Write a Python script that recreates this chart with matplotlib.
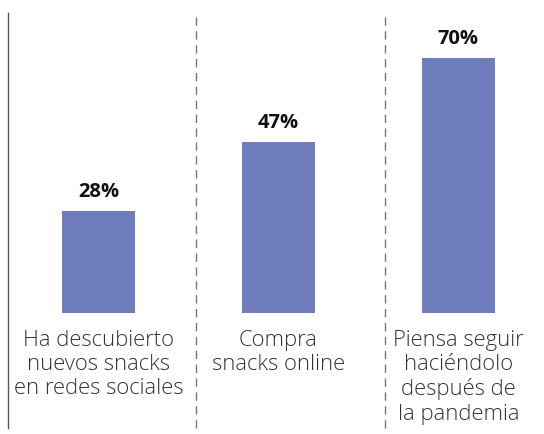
import matplotlib.pyplot as plt
import numpy as np

categories = ["Ha descubierto\nnuevos snacks\nen redes sociales",
              "Compra\nsnacks online",
              "Piensa seguir\nhaciéndolo\ndespués de\nla pandemia"]
values = [28, 47, 70]
value_labels = ["28%", "47%", "70%"]

bar_color = "#6f7dbd"

fig = plt.figure(figsize=(5.44, 4.34), dpi=100)
ax = fig.add_axes([0, 0, 1, 1])
ax.set_xlim(-0.547, 2.475)
ax.set_ylim(-33.2, 86.0)
ax.axis("off")

x = np.arange(len(values))
bars = ax.bar(x, values, width=0.405, color=bar_color)

for b, lab in zip(bars, value_labels):
    ax.annotate(lab, (b.get_x() + b.get_width() / 2, b.get_height()),
                xytext=(0, 6.5), textcoords="offset points",
                ha="center", va="bottom", fontsize=14.5, fontweight="bold",
                family="Open Sans", color="#111111")

for xi, cat in zip(x, categories):
    ax.annotate(cat, (xi, 0), xytext=(0, -12), textcoords="offset points",
                ha="center", va="top", fontsize=15.8, fontweight="light",
                family="Open Sans", color="#333333", linespacing=1.2)

# separadores
ax.axvline(-0.503, ymin=0.014, ymax=0.970, color="#555555", linewidth=1)
for sx in [0.542, 1.592]:
    ax.axvline(sx, ymin=0.014, ymax=0.970, color="#777777", linewidth=1,
               linestyle=(0, (6, 4)))

fig.savefig("out.png", dpi=100)
